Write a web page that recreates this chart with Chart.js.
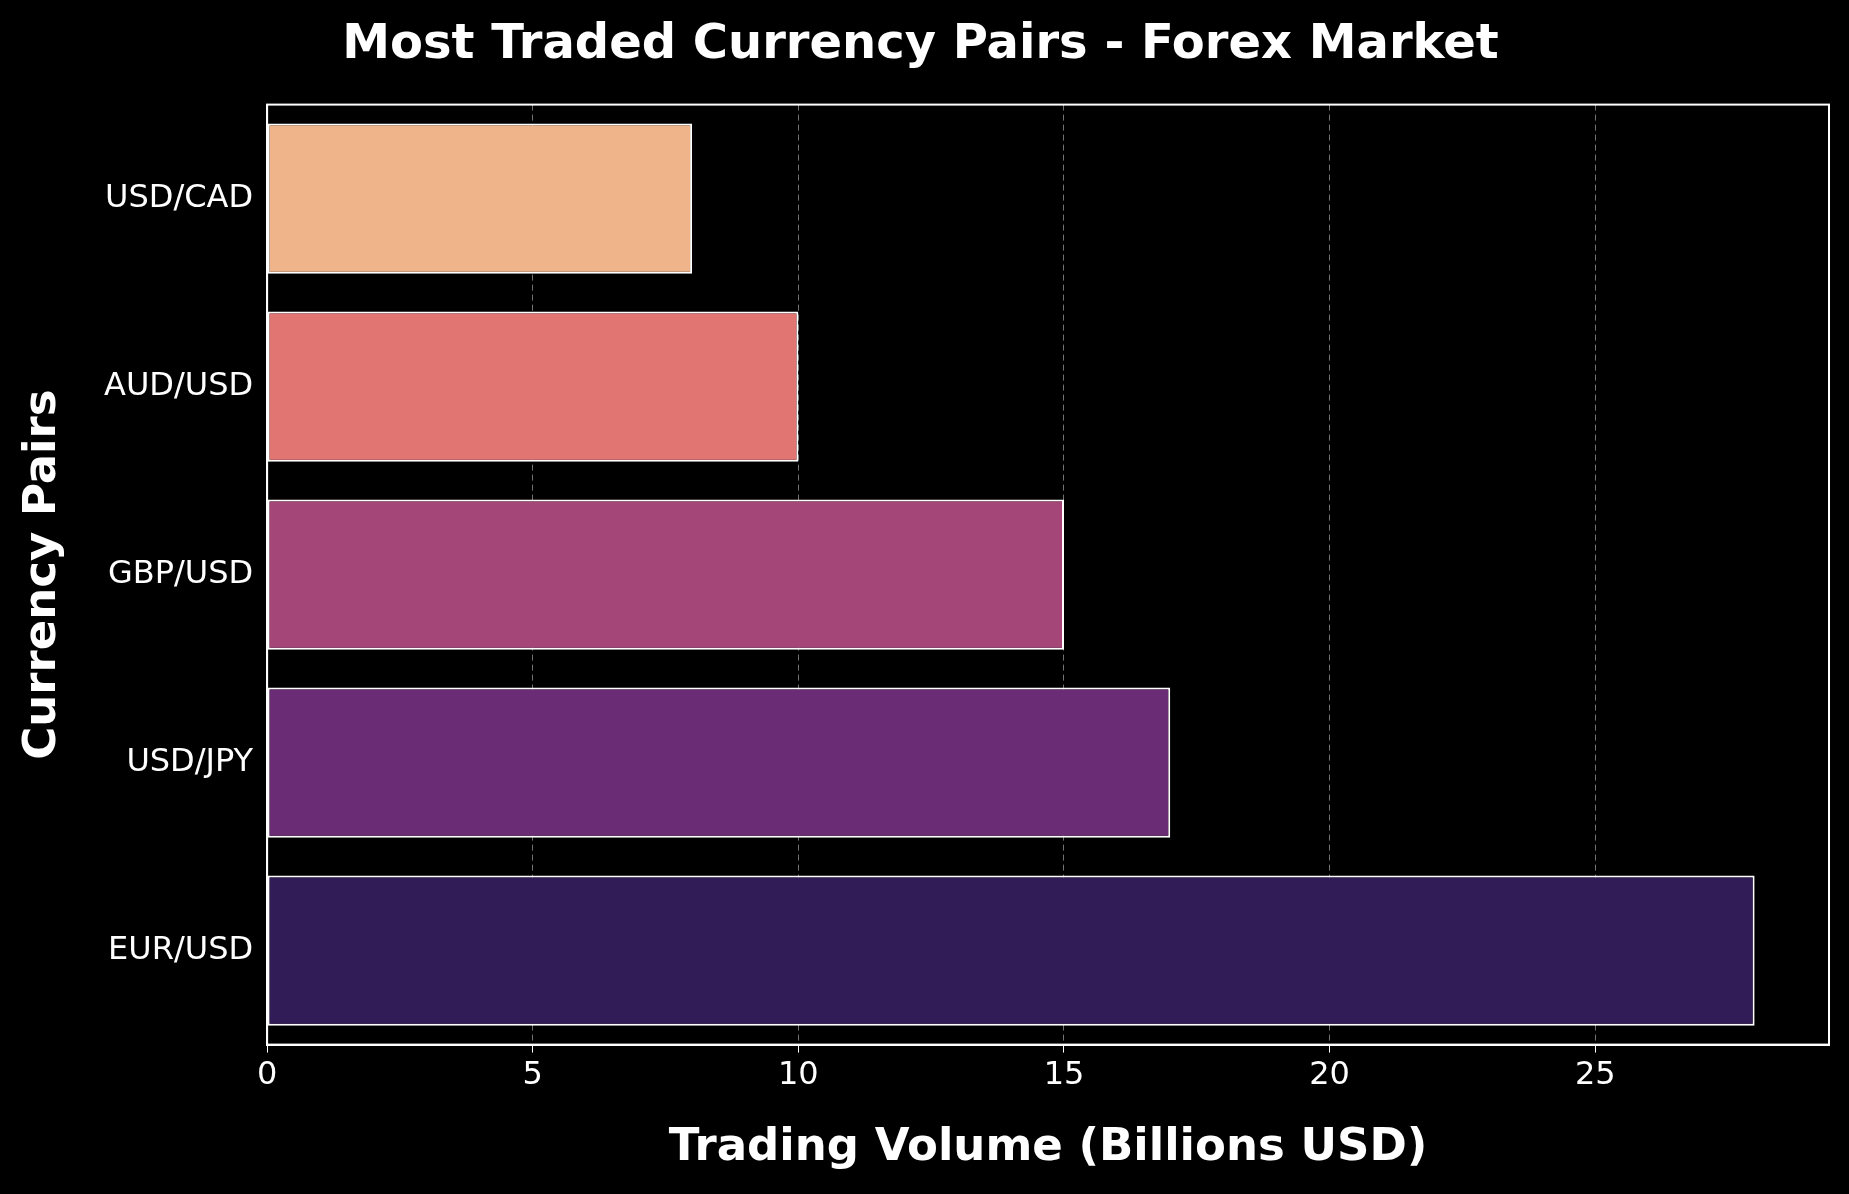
<!DOCTYPE html>
<html><head><meta charset="utf-8">
<script src="https://cdn.jsdelivr.net/npm/chart.js@4"></script>
<style>html,body{margin:0;background:#000;}#w{width:1849px;height:1194px;}</style>
</head><body><div id="w"><canvas id="c"></canvas></div>
<script>
const categories = ["USD/CAD","AUD/USD","GBP/USD","USD/JPY","EUR/USD"];
const volumes = [8,10,15,17,28];
const colors = ["#EFB48A","#E07572","#A44677","#6A2C74","#321C57"];
const xTicks = [0,5,10,15,20,25];

const frame = {id:'frame', afterDraw(ch){const a=ch.chartArea,c=ch.ctx;c.save();c.strokeStyle='#fff';c.lineWidth=2;c.strokeRect(a.left,a.top,a.right-a.left,a.bottom-a.top);c.restore();}};
new Chart(document.getElementById('c'),{
 type:'bar',
 data:{labels:categories,datasets:[{data:volumes,backgroundColor:colors,borderColor:'#fff',borderWidth:2,borderSkipped:false,barPercentage:0.8,categoryPercentage:1}]},
 options:{indexAxis:'y',responsive:true,maintainAspectRatio:false,animation:false,
  layout:{padding:{left:12,right:20,top:5,bottom:15}},
  plugins:{legend:{display:false},tooltip:{enabled:false},
   title:{display:true,text:'Most Traded Currency Pairs - Forex Market',color:'#fff',font:{family:'DejaVu Sans',size:48,weight:'bold'},padding:{top:12,bottom:30}}},
  scales:{
   x:{min:0,max:29.4,afterBuildTicks(s){s.ticks=xTicks.map(v=>({value:v}));},
    grid:{color:'rgba(255,255,255,0.45)',borderDash:[6,4],drawTicks:true,tickColor:'#fff',tickLength:8},
    border:{color:'#fff',width:2,dash:[6,4]},
    ticks:{color:'#fff',font:{family:'DejaVu Sans',size:32},padding:4},
    title:{display:true,text:'Trading Volume (Billions USD)',color:'#fff',font:{family:'DejaVu Sans',size:45,weight:'bold'},padding:{top:22}}},
   y:{offset:true,grid:{display:false,drawTicks:true,tickColor:'#fff',tickLength:8},border:{color:'#fff',width:2},
    ticks:{color:'#fff',font:{family:'DejaVu Sans',size:32},padding:6},
    title:{display:true,text:'Currency Pairs',color:'#fff',font:{family:'DejaVu Sans',size:45,weight:'bold'},padding:{bottom:28}}}
  }},
 plugins:[frame]
});
</script></body></html>
